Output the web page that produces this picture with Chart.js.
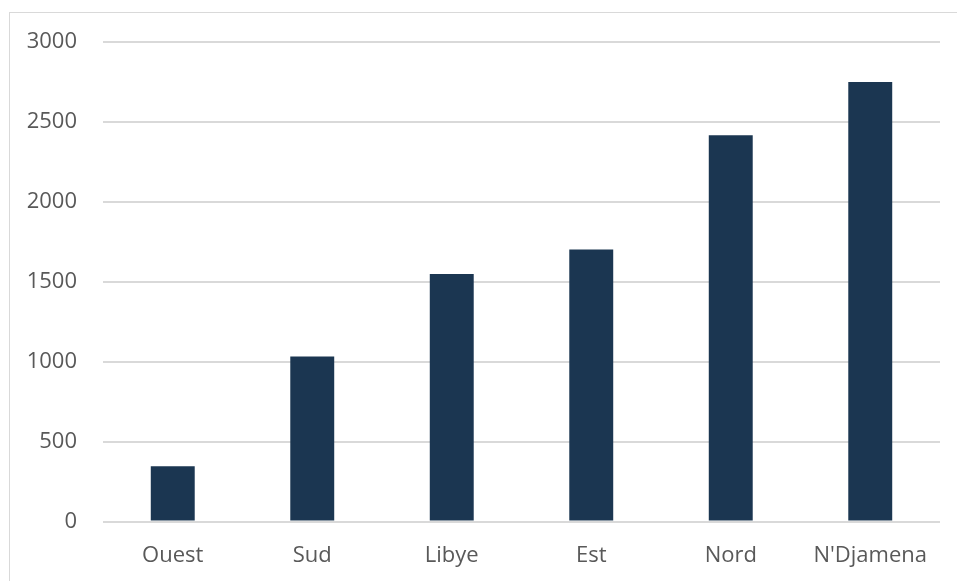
<!DOCTYPE html>
<html>
<head>
<meta charset="utf-8">
<script src="https://cdn.jsdelivr.net/npm/chart.js@4/dist/chart.umd.min.js"></script>
<style>
  html, body { margin: 0; padding: 0; background: #ffffff; }
  #wrap { position: relative; width: 957px; height: 581px; }
</style>
</head>
<body>
<div id="wrap"><canvas id="c" width="957" height="581"></canvas></div>
<script>
const categories = ["Ouest", "Sud", "Libye", "Est", "Nord", "N'Djamena"];
const values = [345, 1033, 1548, 1702, 2417, 2750];
const yTicks = [0, 500, 1000, 1500, 2000, 2500, 3000];

const frame = {
  id: 'frame',
  beforeDraw(chart) {
    const ctx = chart.ctx;
    ctx.save();
    ctx.strokeStyle = '#d9d9d9';
    ctx.lineWidth = 1;
    ctx.strokeRect(9.5, 12.5, 960, 600);
    ctx.restore();
  }
};

new Chart(document.getElementById('c'), {
  type: 'bar',
  data: {
    labels: categories,
    datasets: [{
      data: values,
      backgroundColor: '#1b3651',
      borderWidth: 0,
      categoryPercentage: 1,
      barPercentage: 0.315
    }]
  },
  options: {
    responsive: false,
    animation: false,
    devicePixelRatio: 1,
    layout: { padding: { top: 42, right: 17, bottom: 0, left: 0 } },
    plugins: { legend: { display: false }, tooltip: { enabled: false } },
    scales: {
      x: {
        grid: { display: false, drawTicks: false },
        border: { display: false },
        ticks: {
          color: '#595959',
          font: { family: 'Open Sans', size: 22 },
          padding: 21,
          maxRotation: 0
        },
        afterFit(s) { s.height = 59.5; }
      },
      y: {
        min: 0, max: 3000,
        afterBuildTicks(s) { s.ticks = yTicks.map(v => ({ value: v })); },
        grid: { color: '#d9d9d9', lineWidth: 2, drawTicks: false },
        border: { display: false },
        ticks: {
          color: '#595959',
          font: { family: 'Open Sans', size: 22 },
          padding: 26,
          callback: (v) => String(v)
        },
        afterFit(s) { s.width = 103; }
      }
    }
  },
  plugins: [frame]
});
</script>
</body>
</html>
